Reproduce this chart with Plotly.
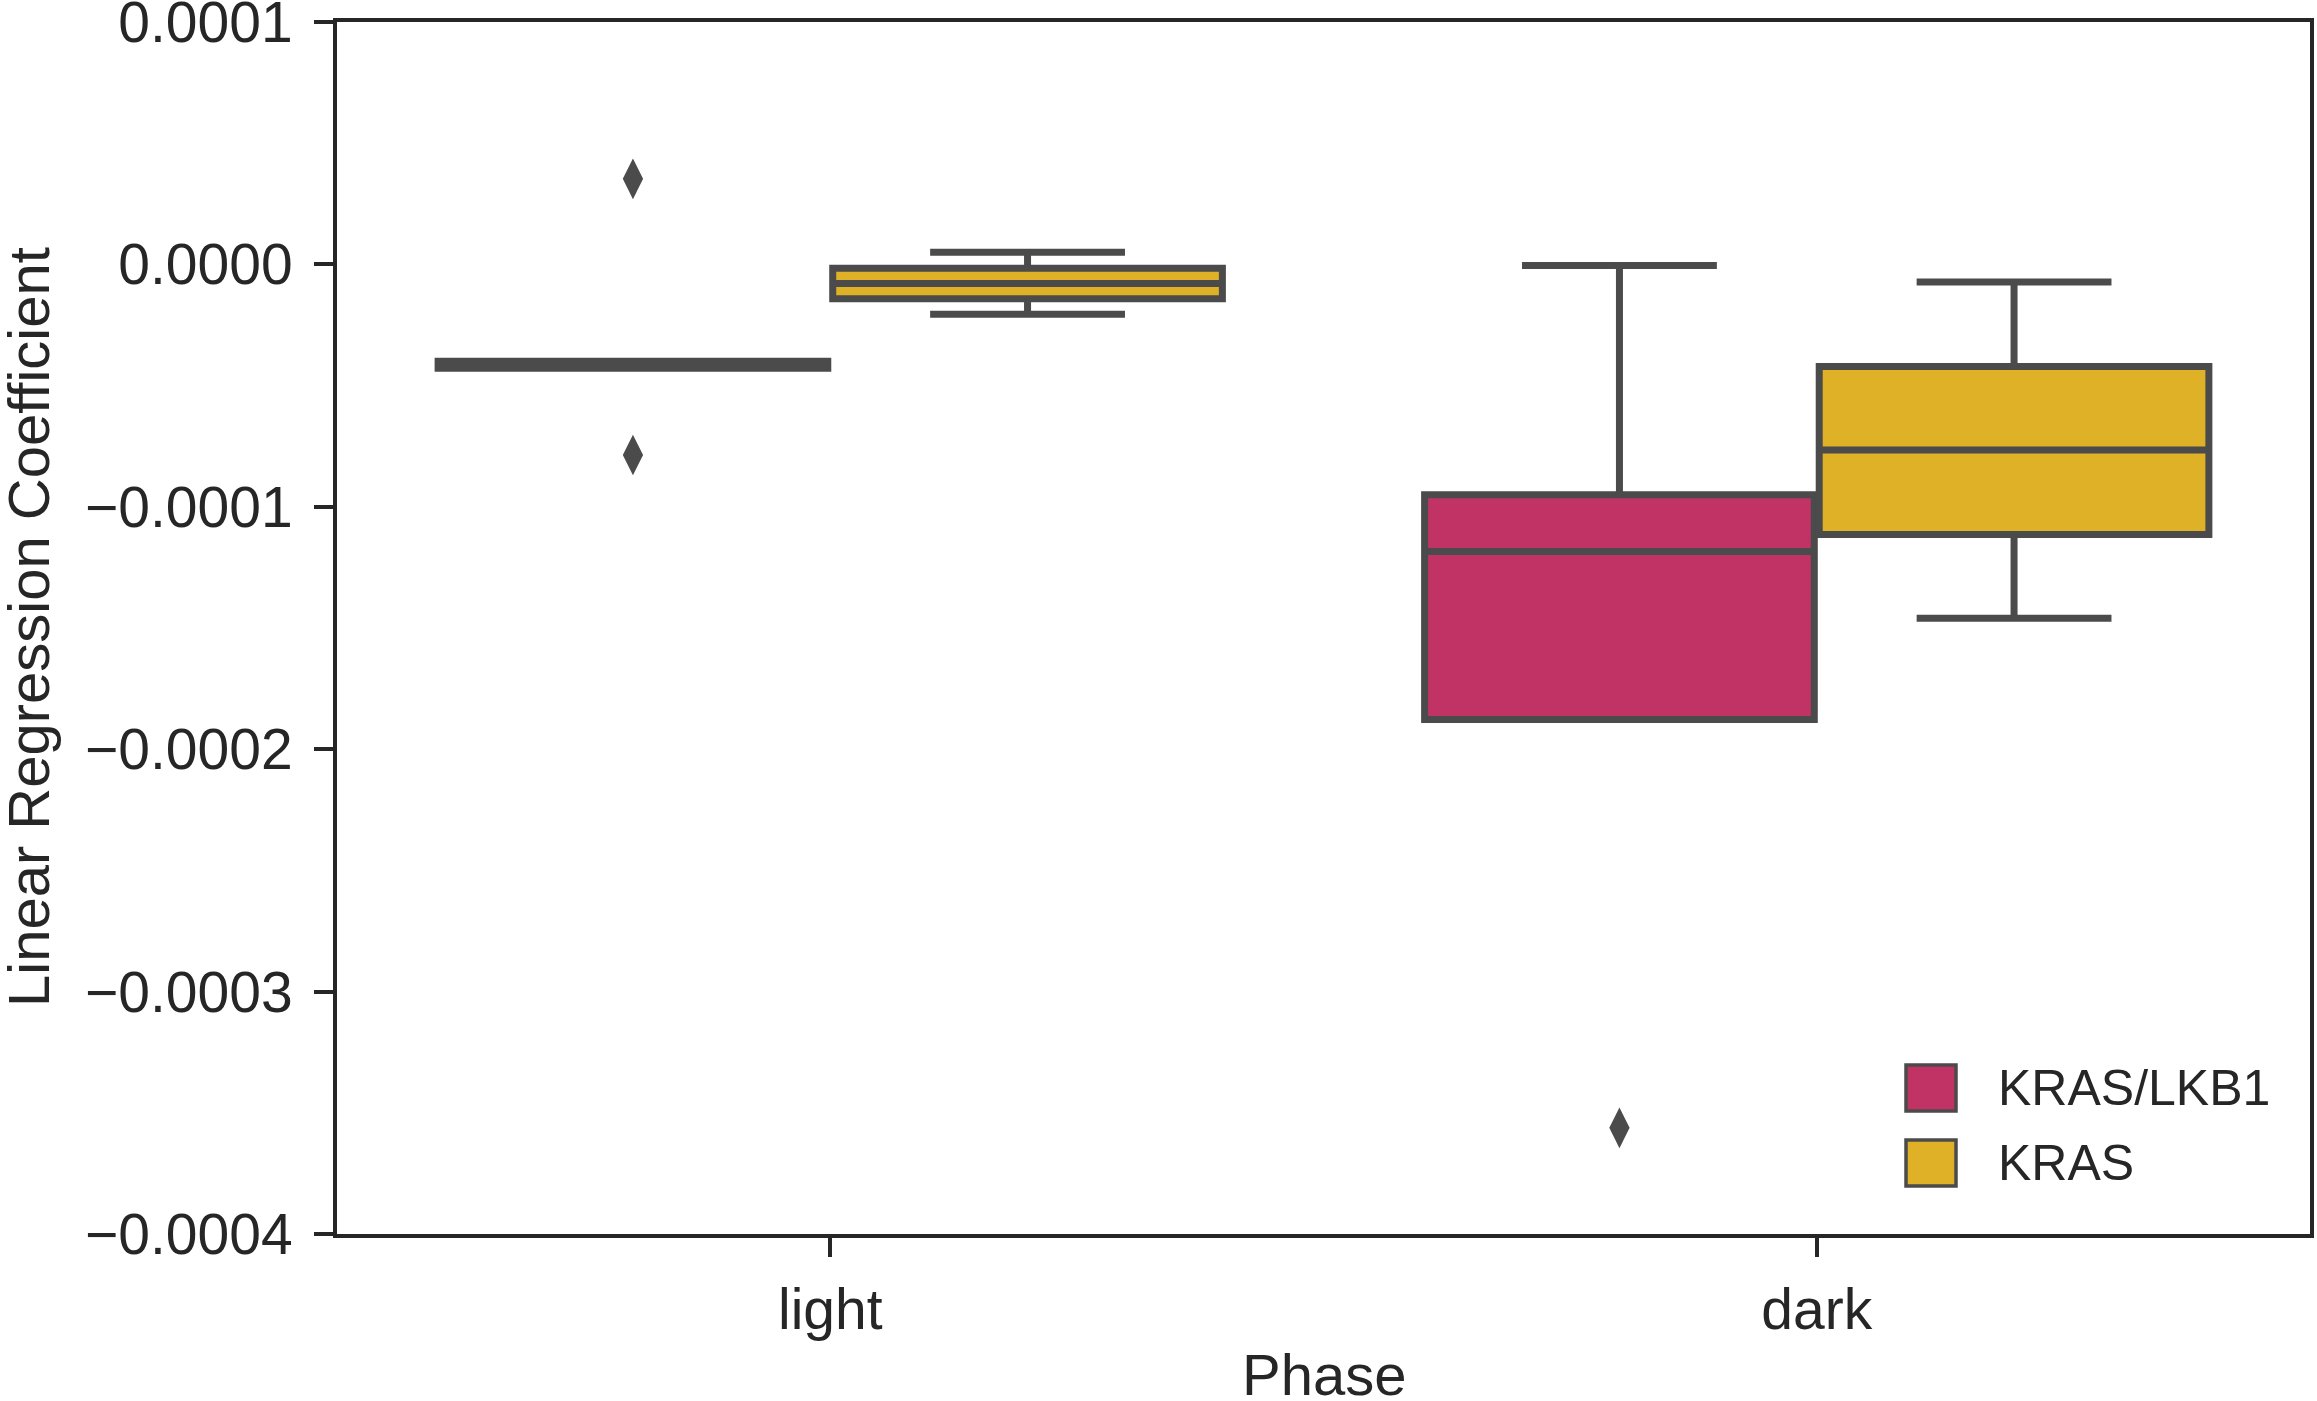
import plotly.graph_objects as go

# ---------------- data ----------------
phases = ["light", "dark"]
series_names = ["KRAS/LKB1", "KRAS"]
series_colors = ["#C13365", "#DEB126"]

# KRAS/LKB1 box statistics per phase
lkb1_lowerfence = [-0.0000428, -0.0001877]
lkb1_q1 = [-0.0000428, -0.0001877]
lkb1_median = [-0.0000414, -0.0001184]
lkb1_q3 = [-0.0000400, -0.0000950]
lkb1_upperfence = [-0.0000400, -0.0000005]
lkb1_outliers_light = [0.0000353, -0.0000786]
lkb1_outliers_dark = [-0.0003562]

# KRAS box statistics per phase
kras_lowerfence = [-0.0000206, -0.0001460]
kras_q1 = [-0.0000142, -0.0001114]
kras_median = [-0.0000079, -0.0000766]
kras_q3 = [-0.0000016, -0.0000421]
kras_upperfence = [0.0000050, -0.0000073]

y_tickvals = [0.0001, 0.0, -0.0001, -0.0002, -0.0003, -0.0004]
y_ticktext = ["0.0001", "0.0000", "\u22120.0001", "\u22120.0002", "\u22120.0003", "\u22120.0004"]

x_title = "Phase"
y_title = "Linear Regression Coefficient"

# ---------------- layout constants ----------------
W, H = 2317, 1401
ML, MR, MT, MB = 337, 7, 22, 167
PW, PH = W - ML - MR, H - MT - MB
FONT = "Liberation Sans, Arial, Helvetica, sans-serif"
TXT = "#262626"
EDGE = "#4b4b4b"
OFFSET = 0.2
BOXW = 0.395
TICK_FS = 57
TITLE_FS = 58
LEG_FS = 50


def px2paper(px, py):
    return (px - ML) / PW, (MT + PH - py) / PH


fig = go.Figure()

stats = [
    (lkb1_lowerfence, lkb1_q1, lkb1_median, lkb1_q3, lkb1_upperfence),
    (kras_lowerfence, kras_q1, kras_median, kras_q3, kras_upperfence),
]
offsets = [-OFFSET, OFFSET]

for name, color, st, off in zip(series_names, series_colors, stats, offsets):
    lf, q1, med, q3, uf = st
    fig.add_trace(go.Box(
        name=name,
        x=[i + off for i in range(len(phases))],
        lowerfence=lf, q1=q1, median=med, q3=q3, upperfence=uf,
        width=BOXW,
        whiskerwidth=0.5,
        fillcolor=color,
        line=dict(color=EDGE, width=7),
        boxpoints=False,
        showlegend=False,
        hoverinfo="skip",
    ))

# outliers (KRAS/LKB1 only)
out_x = [0 - OFFSET] * len(lkb1_outliers_light) + [1 - OFFSET] * len(lkb1_outliers_dark)
out_y = lkb1_outliers_light + lkb1_outliers_dark
fig.add_trace(go.Scatter(
    x=out_x, y=out_y, mode="markers",
    marker=dict(symbol="diamond-tall", size=29, color=EDGE, line=dict(width=0)),
    showlegend=False, hoverinfo="skip",
))

# ---------------- manual legend ----------------
legend_rows_py = [1088, 1163]
for name, color, cy in zip(series_names, series_colors, legend_rows_py):
    x0, y0 = px2paper(1906, cy + 23)
    x1, y1 = px2paper(1956, cy - 23)
    fig.add_shape(type="rect", xref="paper", yref="paper",
                  x0=x0, y0=y0, x1=x1, y1=y1,
                  fillcolor=color, line=dict(color=EDGE, width=3.5), layer="above")
    tx, ty = px2paper(1996, cy)
    fig.add_annotation(xref="paper", yref="paper", x=tx, y=ty, text=name,
                       showarrow=False, xanchor="left", yanchor="middle",
                       font=dict(family=FONT, size=LEG_FS, color=TXT))

# ---------------- axis titles ----------------
tx, ty = px2paper(1324, 1374)
fig.add_annotation(xref="paper", yref="paper", x=tx, y=ty, text=x_title,
                   showarrow=False, xanchor="center", yanchor="middle",
                   font=dict(family=FONT, size=TITLE_FS, color=TXT))
tx, ty = px2paper(28, 627)
fig.add_annotation(xref="paper", yref="paper", x=tx, y=ty, text=y_title,
                   showarrow=False, xanchor="center", yanchor="middle", textangle=-90,
                   font=dict(family=FONT, size=TITLE_FS, color=TXT))

axis_common = dict(
    showline=True, linewidth=4, linecolor=TXT, mirror=True,
    ticks="outside", ticklen=19, tickwidth=3.5, tickcolor=TXT,
    showgrid=False, zeroline=False, automargin=False,
    ticklabeloverflow="allow",
    tickfont=dict(family=FONT, size=TICK_FS, color=TXT),
)

fig.update_layout(
    width=W, height=H,
    margin=dict(l=ML, r=MR, t=MT, b=MB, pad=0, autoexpand=False),
    paper_bgcolor="white", plot_bgcolor="white",
    boxmode="overlay",
    font=dict(family=FONT, color=TXT),
    xaxis=dict(
        range=[-0.5, 1.5],
        tickvals=list(range(len(phases))), ticktext=phases,
        ticklabelstandoff=4,
        **axis_common,
    ),
    yaxis=dict(
        range=[-0.0004, 0.0001],
        tickvals=y_tickvals, ticktext=y_ticktext,
        ticklabelstandoff=10,
        **axis_common,
    ),
)

fig.write_html(
    "out.html",
    config={"displayModeBar": False},
    post_script="document.body.style.margin='0';document.body.style.overflow='hidden';",
)
